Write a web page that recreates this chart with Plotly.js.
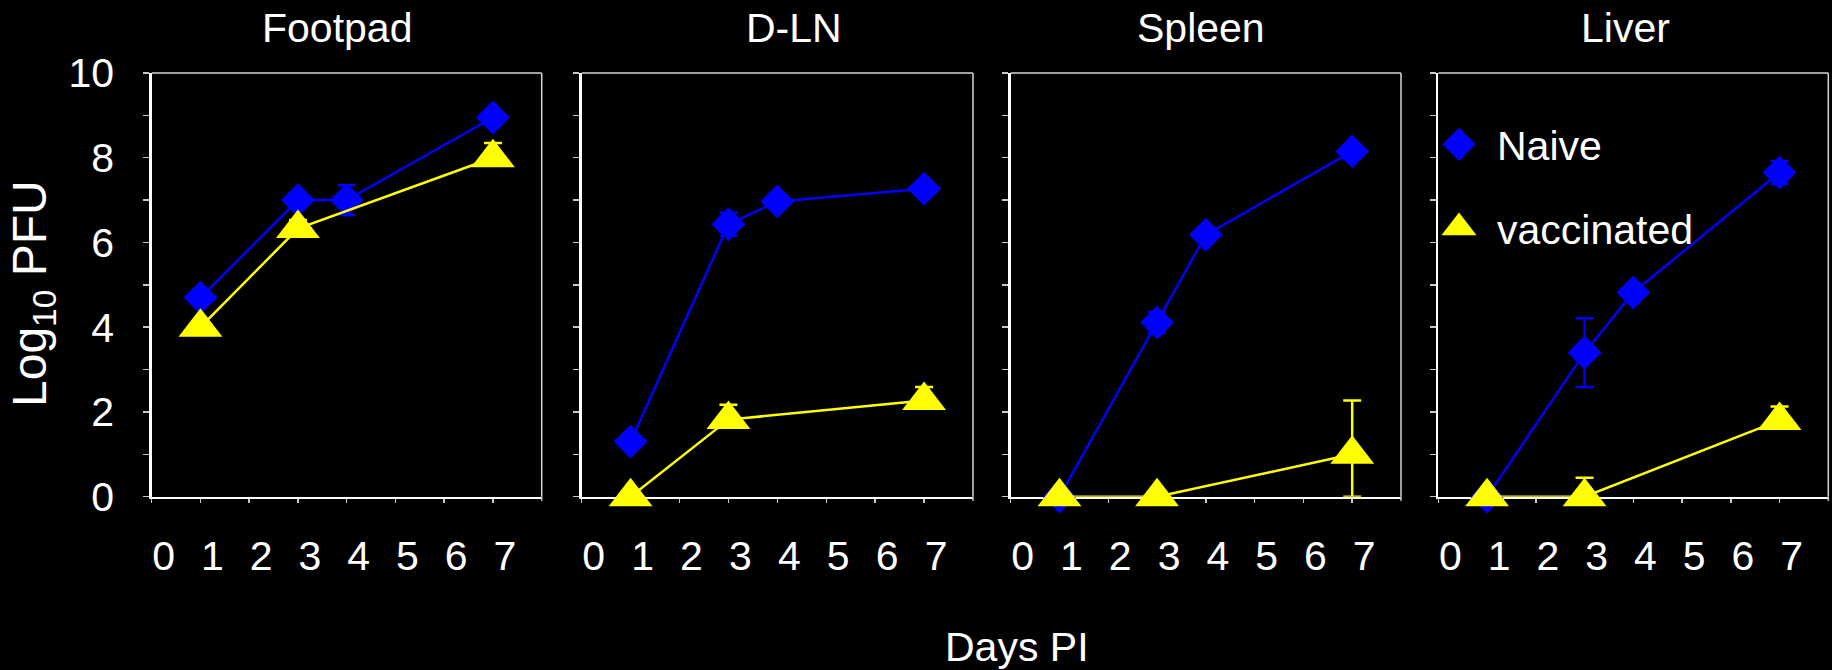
<!DOCTYPE html>
<html>
<head>
<meta charset="utf-8">
<script src="https://cdn.plot.ly/plotly-3.0.1.min.js"></script>
<style>html,body{margin:0;padding:0;background:#000;}#chart{width:1832px;height:670px;}</style>
</head>
<body>
<div id="chart"></div>
<script>
// ---- data ----
const organs = ['Footpad', 'D-LN', 'Spleen', 'Liver'];
const naiveDays = [1, 3, 4, 7];
const vaccDays = [1, 3, 7];

const naiveFootpad = [4.7, 7.0, 7.0, 8.95];
const naiveFootpadErr = [0, 0, 0.35, 0];
const vaccFootpad = [4.0, 6.33, 8.0];
const vaccFootpadErrUp = [0, 0.2, 0.35];
const vaccFootpadErrDown = [0, 0, 0];

const naiveDLN = [1.3, 6.43, 6.97, 7.27];
const naiveDLNErr = [0, 0.27, 0, 0];
const vaccDLN = [0, 1.82, 2.27];
const vaccDLNErrUp = [0, 0.35, 0.32];
const vaccDLNErrDown = [0, 0, 0];

const naiveSpleen = [0, 4.11, 6.18, 8.15];
const naiveSpleenErr = [0, 0.25, 0, 0];
const vaccSpleen = [0, 0, 1.0];
const vaccSpleenErrUp = [0, 0, 1.27];
const vaccSpleenErrDown = [0, 0, 1.0];

const naiveLiver = [0, 3.4, 4.82, 7.65];
const naiveLiverErr = [0, 0.81, 0, 0.27];
const vaccLiver = [0, 0, 1.8];
const vaccLiverErrUp = [0, 0.45, 0.33];
const vaccLiverErrDown = [0, 0, 0];

const xTickVals = [0, 1, 2, 3, 4, 5, 6, 7];
const xTickText = ['0', '1', '2', '3', '4', '5', '6', '7'];
const yTickVals = [0, 1, 2, 3, 4, 5, 6, 7, 8, 9, 10];
const yTickText = ['0', '', '2', '', '4', '', '6', '', '8', '', '10'];

const seriesNames = ['Naive', 'vaccinated'];

// ---- styling ----
const FONT = 'Liberation Sans, Arial, sans-serif';
const BLUE = '#0000FF';
const YELLOW = '#FFFF00';
const W = 1832, H = 670;
const panelPx = [[151.7, 541.7], [581.7, 973.0], [1010.7, 1401.0], [1438.3, 1828.3]];
const yDomain = [(H - 496.7) / H, (H - 73) / H];
const titleX = [336.7, 793.7, 1201, 1625];

const naiveSets = [
  [naiveFootpad, naiveFootpadErr],
  [naiveDLN, naiveDLNErr],
  [naiveSpleen, naiveSpleenErr],
  [naiveLiver, naiveLiverErr]
];
const vaccSets = [
  [vaccFootpad, vaccFootpadErrUp, vaccFootpadErrDown],
  [vaccDLN, vaccDLNErrUp, vaccDLNErrDown],
  [vaccSpleen, vaccSpleenErrUp, vaccSpleenErrDown],
  [vaccLiver, vaccLiverErrUp, vaccLiverErrDown]
];

const diamondMarker = {symbol: 'diamond', size: 26, color: BLUE, line: {width: 0}};
const triangleMarker = {symbol: 'triangle-up', size: 38, color: YELLOW, line: {width: 0}};

const traces = [];
const layout = {
  width: W, height: H,
  paper_bgcolor: '#000', plot_bgcolor: '#000',
  margin: {l: 0, r: 0, t: 0, b: 0},
  font: {family: FONT, color: '#fff', size: 41},
  showlegend: true,
  legend: {
    x: 1421 / W, y: 0.834, xanchor: 'left', yanchor: 'top',
    bgcolor: 'rgba(0,0,0,0)', font: {family: FONT, size: 41, color: '#fff'},
    traceorder: 'grouped', tracegroupgap: 27, itemwidth: 66
  },
  annotations: [],
  shapes: []
};

organs.forEach((organ, i) => {
  const n = i + 1;
  const xk = n === 1 ? 'x' : 'x' + n;
  const yk = n === 1 ? 'y' : 'y' + n;
  traces.push({
    type: 'scatter', mode: 'lines+markers', name: seriesNames[0],
    x: naiveDays, y: naiveSets[i][0], xaxis: xk, yaxis: yk,
    line: {color: BLUE, width: 2.5}, marker: diamondMarker,
    error_y: {type: 'data', array: naiveSets[i][1], symmetric: true, color: BLUE, thickness: 2.5, width: 9},
    cliponaxis: false, showlegend: false, hoverinfo: 'skip'
  });
  traces.push({
    type: 'scatter', mode: 'lines+markers', name: seriesNames[1],
    x: vaccDays, y: vaccSets[i][0], xaxis: xk, yaxis: yk,
    line: {color: YELLOW, width: 2.5}, marker: triangleMarker,
    error_y: {type: 'data', array: vaccSets[i][1], arrayminus: vaccSets[i][2], symmetric: false, color: YELLOW, thickness: 2.5, width: 9},
    cliponaxis: false, showlegend: false, hoverinfo: 'skip'
  });

  layout['xaxis' + (n === 1 ? '' : n)] = {
    domain: [panelPx[i][0] / W, panelPx[i][1] / W], anchor: yk, range: [0, 8],
    tickmode: 'array', tickvals: xTickVals, ticktext: xTickText,
    ticks: 'outside', ticklen: 4, tickwidth: 1.5, tickcolor: '#c8c8c8',
    showline: true, linecolor: '#ffffff', linewidth: 2.5,
    showgrid: false, zeroline: false, layer: 'below traces', fixedrange: true,
    tickfont: {family: FONT, size: 41, color: '#fff'},
    ticklabelshift: 12, ticklabelstandoff: 18
  };
  layout['yaxis' + (n === 1 ? '' : n)] = {
    domain: yDomain, anchor: xk, range: [0, 10],
    tickmode: 'array', tickvals: yTickVals, ticktext: yTickText,
    showticklabels: n === 1,
    ticks: 'outside', ticklen: 6, tickwidth: 1.5, tickcolor: '#c8c8c8',
    showline: true, linecolor: '#ffffff', linewidth: 2.5,
    showgrid: false, zeroline: false, layer: 'below traces', fixedrange: true,
    tickfont: {family: FONT, size: 41, color: '#fff'},
    ticklabelstandoff: 21
  };
  // top and right frame lines, plus the tick at the right end of the x axis
  layout.shapes.push({type: 'line', xref: xk + ' domain', yref: yk + ' domain', x0: 0, x1: 1, y0: 1, y1: 1, line: {color: '#d4d4d4', width: 1.5}});
  layout.shapes.push({type: 'line', xref: xk + ' domain', yref: yk + ' domain', x0: 1, x1: 1, y0: 0, y1: 1, line: {color: '#d4d4d4', width: 1.5}});
  layout.shapes.push({type: 'line', xref: xk + ' domain', yref: yk + ' domain', x0: 1, x1: 1, y0: 0, y1: -0.01, line: {color: '#c8c8c8', width: 1.5}});
  // panel title
  layout.annotations.push({
    text: organ, xref: 'paper', yref: 'paper', x: titleX[i] / W, y: (H - 27.8) / H,
    xanchor: 'center', yanchor: 'middle', showarrow: false,
    font: {family: FONT, size: 41, color: '#fff'}
  });
});

// legend entries (markers only)
traces.push({type: 'scatter', mode: 'markers', name: seriesNames[0], x: [null], y: [null], xaxis: 'x4', yaxis: 'y4', marker: diamondMarker, legendgroup: 'a', showlegend: true, hoverinfo: 'skip'});
traces.push({type: 'scatter', mode: 'markers', name: seriesNames[1], x: [null], y: [null], xaxis: 'x4', yaxis: 'y4', marker: triangleMarker, legendgroup: 'b', showlegend: true, hoverinfo: 'skip'});

layout.annotations.push({
  text: 'Log<sub>10</sub> PFU', xref: 'paper', yref: 'paper', x: 33 / W, y: (H - 294) / H,
  xanchor: 'center', yanchor: 'middle', textangle: -90, showarrow: false,
  font: {family: FONT, size: 48, color: '#fff'}
});
layout.annotations.push({
  text: 'Days PI', xref: 'paper', yref: 'paper', x: 1017 / W, y: (H - 647) / H,
  xanchor: 'center', yanchor: 'middle', showarrow: false,
  font: {family: FONT, size: 41, color: '#fff'}
});

Plotly.newPlot('chart', traces, layout, {displayModeBar: false, staticPlot: true}).then(() => {
  const scales = [1.6, 1.9];
  document.querySelectorAll('.legend .traces').forEach((g, k) => {
    g.querySelectorAll('.legendpoints path.scatterpts').forEach(p => {
      const t = p.getAttribute('transform') || '';
      p.setAttribute('transform', t + ' scale(' + (scales[k] || 1.6) + ')');
    });
  });
});
</script>
</body>
</html>
